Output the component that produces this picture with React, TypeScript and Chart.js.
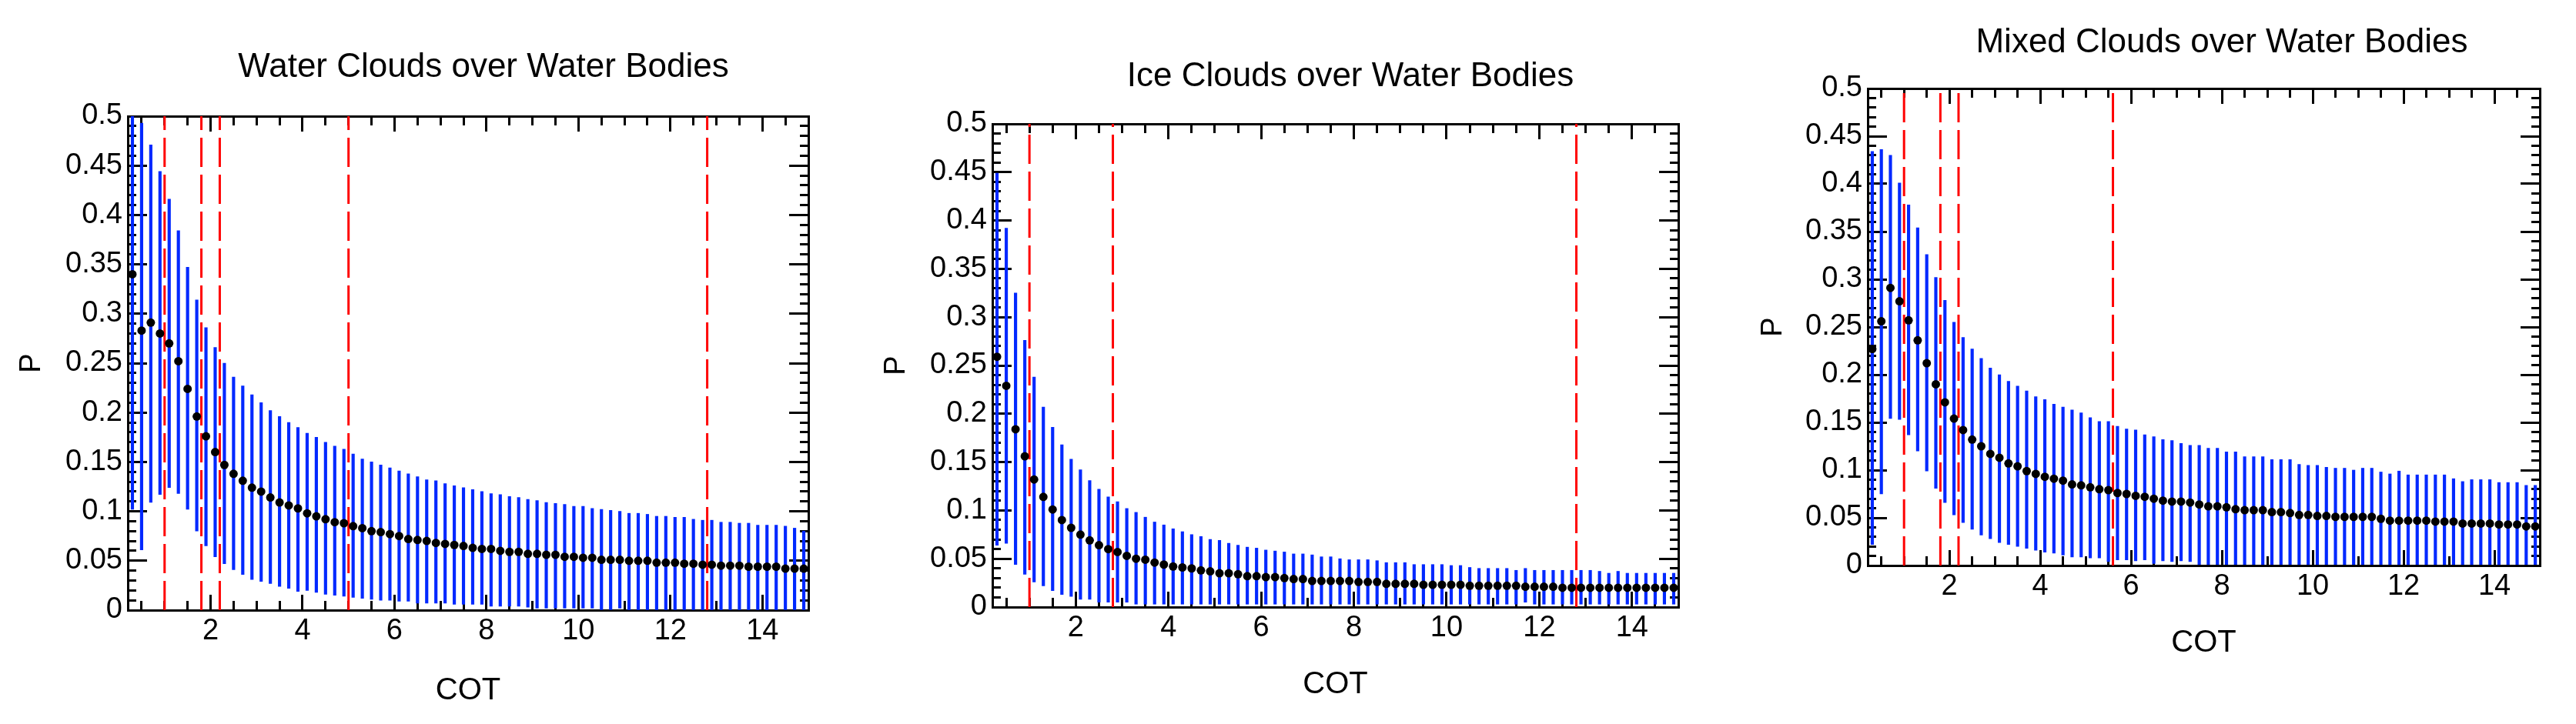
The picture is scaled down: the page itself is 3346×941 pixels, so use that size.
import React, { useEffect, useRef } from "react";
import { Chart, registerables } from "chart.js";

Chart.register(...registerables);

// ---------- data ----------
const COT = [
  0.3, 0.5, 0.7, 0.9, 1.1, 1.3, 1.5, 1.7, 1.9, 2.1,
  2.3, 2.5, 2.7, 2.9, 3.1, 3.3, 3.5, 3.7, 3.9, 4.1,
  4.3, 4.5, 4.7, 4.9, 5.1, 5.3, 5.5, 5.7, 5.9, 6.1,
  6.3, 6.5, 6.7, 6.9, 7.1, 7.3, 7.5, 7.7, 7.9, 8.1,
  8.3, 8.5, 8.7, 8.9, 9.1, 9.3, 9.5, 9.7, 9.9, 10.1,
  10.3, 10.5, 10.7, 10.9, 11.1, 11.3, 11.5, 11.7, 11.9, 12.1,
  12.3, 12.5, 12.7, 12.9, 13.1, 13.3, 13.5, 13.7, 13.9, 14.1,
  14.3, 14.5, 14.7, 14.9,
];

const WATER_MEAN = [
  0.340, 0.283, 0.291, 0.280, 0.270, 0.252, 0.224, 0.196, 0.176, 0.160,
  0.147, 0.138, 0.131, 0.124, 0.120, 0.114, 0.109, 0.106, 0.103, 0.098,
  0.095, 0.092, 0.089, 0.088, 0.085, 0.083, 0.080, 0.079, 0.077, 0.075,
  0.072, 0.071, 0.070, 0.068, 0.067, 0.066, 0.065, 0.063, 0.062, 0.062,
  0.060, 0.059, 0.059, 0.057, 0.057, 0.056, 0.056, 0.054, 0.054, 0.053,
  0.053, 0.051, 0.051, 0.051, 0.050, 0.050, 0.050, 0.048, 0.048, 0.048,
  0.047, 0.047, 0.046, 0.046, 0.045, 0.045, 0.045, 0.044, 0.044, 0.044,
  0.044, 0.042, 0.042, 0.042,
];
const WATER_HIGH = [
  0.580, 0.493, 0.471, 0.444, 0.416, 0.384, 0.347, 0.314, 0.286, 0.266,
  0.250, 0.236, 0.227, 0.218, 0.210, 0.202, 0.196, 0.190, 0.185, 0.179,
  0.175, 0.170, 0.166, 0.163, 0.158, 0.153, 0.150, 0.147, 0.144, 0.141,
  0.138, 0.135, 0.132, 0.131, 0.128, 0.126, 0.124, 0.122, 0.120, 0.118,
  0.117, 0.115, 0.114, 0.112, 0.111, 0.109, 0.108, 0.107, 0.105, 0.105,
  0.103, 0.102, 0.101, 0.100, 0.098, 0.098, 0.097, 0.095, 0.095, 0.094,
  0.094, 0.092, 0.091, 0.091, 0.089, 0.089, 0.088, 0.088, 0.086, 0.086,
  0.086, 0.085, 0.083, 0.080,
];
const WATER_LOW = [
  0.102, 0.061, 0.109, 0.117, 0.124, 0.118, 0.102, 0.080, 0.065, 0.054,
  0.047, 0.041, 0.036, 0.031, 0.029, 0.027, 0.024, 0.022, 0.019, 0.020,
  0.018, 0.016, 0.015, 0.014, 0.013, 0.012, 0.011, 0.010, 0.010, 0.009,
  0.009, 0.007, 0.007, 0.007, 0.007, 0.006, 0.006, 0.006, 0.006, 0.004,
  0.004, 0.004, 0.004, 0.003, 0.002, 0.002, 0.002, 0.002, 0.002, 0.002,
  0.002, 0.000, 0.000, 0.002, 0.000, 0.000, 0.000, 0.000, 0.000, 0.000,
  0.000, 0.000, 0.000, 0.000, 0.000, 0.000, 0.000, 0.000, 0.000, 0.000,
  0.000, 0.000, 0.000, 0.000,
];
const WATER_LINES = [1.0, 1.8, 2.2, 5.0, 12.8];

const ICE_MEAN = [
  0.259, 0.229, 0.184, 0.156, 0.132, 0.114, 0.101, 0.090, 0.082, 0.075,
  0.069, 0.064, 0.060, 0.057, 0.053, 0.050, 0.049, 0.046, 0.044, 0.042,
  0.041, 0.040, 0.038, 0.037, 0.035, 0.035, 0.034, 0.032, 0.032, 0.031,
  0.031, 0.030, 0.029, 0.029, 0.027, 0.027, 0.027, 0.027, 0.027, 0.026,
  0.026, 0.026, 0.024, 0.024, 0.024, 0.024, 0.023, 0.023, 0.023, 0.023,
  0.023, 0.022, 0.022, 0.022, 0.022, 0.022, 0.022, 0.021, 0.021, 0.021,
  0.021, 0.020, 0.020, 0.020, 0.020, 0.020, 0.020, 0.020, 0.020, 0.020,
  0.020, 0.020, 0.020, 0.020,
];
const ICE_HIGH = [
  0.449, 0.392, 0.325, 0.276, 0.238, 0.207, 0.186, 0.168, 0.153, 0.142,
  0.131, 0.122, 0.114, 0.109, 0.102, 0.098, 0.093, 0.088, 0.085, 0.081,
  0.078, 0.075, 0.073, 0.070, 0.069, 0.066, 0.064, 0.062, 0.061, 0.059,
  0.058, 0.057, 0.055, 0.055, 0.054, 0.052, 0.052, 0.050, 0.049, 0.049,
  0.049, 0.048, 0.046, 0.046, 0.046, 0.044, 0.044, 0.044, 0.044, 0.043,
  0.043, 0.041, 0.040, 0.040, 0.040, 0.040, 0.038, 0.040, 0.038, 0.038,
  0.038, 0.038, 0.038, 0.038, 0.038, 0.037, 0.035, 0.037, 0.035, 0.035,
  0.035, 0.035, 0.035, 0.035,
];
const ICE_LOW = [
  0.064, 0.066, 0.044, 0.034, 0.026, 0.022, 0.017, 0.013, 0.011, 0.008,
  0.008, 0.005, 0.005, 0.005, 0.005, 0.003, 0.003, 0.003, 0.003, 0.003,
  0.003, 0.003, 0.003, 0.003, 0.003, 0.003, 0.003, 0.003, 0.003, 0.003,
  0.003, 0.003, 0.003, 0.003, 0.003, 0.003, 0.003, 0.003, 0.003, 0.003,
  0.003, 0.003, 0.003, 0.003, 0.003, 0.003, 0.003, 0.003, 0.003, 0.003,
  0.003, 0.003, 0.003, 0.003, 0.003, 0.003, 0.003, 0.005, 0.003, 0.003,
  0.003, 0.003, 0.003, 0.003, 0.003, 0.003, 0.003, 0.003, 0.003, 0.003,
  0.003, 0.003, 0.003, 0.003,
];
const ICE_LINES = [1.0, 2.8, 12.8];

const MIXED_MEAN = [
  0.227, 0.256, 0.291, 0.277, 0.257, 0.236, 0.212, 0.190, 0.171, 0.154,
  0.142, 0.132, 0.125, 0.117, 0.113, 0.107, 0.104, 0.099, 0.096, 0.093,
  0.091, 0.089, 0.085, 0.084, 0.082, 0.080, 0.079, 0.076, 0.075, 0.073,
  0.072, 0.070, 0.068, 0.067, 0.067, 0.066, 0.064, 0.062, 0.062, 0.061,
  0.059, 0.058, 0.058, 0.058, 0.056, 0.056, 0.055, 0.053, 0.053, 0.052,
  0.052, 0.051, 0.051, 0.051, 0.051, 0.051, 0.049, 0.047, 0.047, 0.047,
  0.047, 0.047, 0.046, 0.046, 0.046, 0.044, 0.044, 0.044, 0.044, 0.043,
  0.043, 0.043, 0.041, 0.041,
];
const MIXED_HIGH = [
  0.434, 0.436, 0.430, 0.401, 0.378, 0.354, 0.326, 0.302, 0.278, 0.255,
  0.239, 0.227, 0.217, 0.207, 0.200, 0.193, 0.188, 0.183, 0.177, 0.174,
  0.169, 0.166, 0.163, 0.160, 0.155, 0.151, 0.151, 0.146, 0.143, 0.142,
  0.137, 0.135, 0.132, 0.131, 0.128, 0.126, 0.126, 0.123, 0.123, 0.119,
  0.119, 0.114, 0.114, 0.114, 0.111, 0.111, 0.111, 0.106, 0.105, 0.105,
  0.103, 0.102, 0.102, 0.100, 0.102, 0.102, 0.098, 0.096, 0.099, 0.095,
  0.095, 0.095, 0.095, 0.095, 0.091, 0.088, 0.090, 0.090, 0.090, 0.087,
  0.087, 0.087, 0.084, 0.084,
];
const MIXED_LOW = [
  0.022, 0.075, 0.154, 0.153, 0.137, 0.120, 0.099, 0.081, 0.066, 0.053,
  0.045, 0.038, 0.032, 0.028, 0.024, 0.022, 0.020, 0.018, 0.016, 0.014,
  0.013, 0.011, 0.009, 0.009, 0.008, 0.008, 0.004, 0.006, 0.006, 0.005,
  0.006, 0.002, 0.005, 0.004, 0.005, 0.004, 0.001, 0.001, 0.001, 0.001,
  0.001, 0.001, 0.001, 0.001, 0.001, 0.001, 0.001, 0.001, 0.001, 0.001,
  0.001, 0.001, 0.001, 0.001, 0.001, 0.001, 0.001, 0.001, 0.001, 0.001,
  0.001, 0.001, 0.001, 0.001, 0.001, 0.001, 0.001, 0.001, 0.001, 0.001,
  0.001, 0.001, 0.001, 0.001,
];
const MIXED_LINES = [1.0, 1.8, 2.2, 5.6];

// ---------- ticks ----------
const X_MAJOR_TICKS = [2, 4, 6, 8, 10, 12, 14];
const X_MINOR_TICKS = [
  0.5, 1, 1.5, 2, 2.5, 3, 3.5, 4, 4.5, 5, 5.5, 6, 6.5, 7, 7.5,
  8, 8.5, 9, 9.5, 10, 10.5, 11, 11.5, 12, 12.5, 13, 13.5, 14, 14.5,
];
const Y_MAJOR_TICKS = [0, 0.05, 0.1, 0.15, 0.2, 0.25, 0.3, 0.35, 0.4, 0.45, 0.5];
const Y_MINOR_TICKS = [
  0.01, 0.02, 0.03, 0.04, 0.05, 0.06, 0.07, 0.08, 0.09, 0.1,
  0.11, 0.12, 0.13, 0.14, 0.15, 0.16, 0.17, 0.18, 0.19, 0.2,
  0.21, 0.22, 0.23, 0.24, 0.25, 0.26, 0.27, 0.28, 0.29, 0.3,
  0.31, 0.32, 0.33, 0.34, 0.35, 0.36, 0.37, 0.38, 0.39, 0.4,
  0.41, 0.42, 0.43, 0.44, 0.45, 0.46, 0.47, 0.48, 0.49,
];
const X_MIN = 0.2;
const X_MAX = 15;
const Y_MIN = 0;
const Y_MAX = 0.5;

const TITLES = [
  "Water Clouds over Water Bodies",
  "Ice Clouds over Water Bodies",
  "Mixed Clouds over Water Bodies",
];
const X_LABEL = "COT";
const Y_LABEL = "P";

// ---------- layout / style ----------
const FONT = '"Liberation Sans", Arial, Helvetica, sans-serif';
const BLUE = "#0028ff";
const RED = "#ff0000";
const CANVAS_H = 941;

const PANELS = [
  {
    title: TITLES[0], mean: WATER_MEAN, low: WATER_LOW, high: WATER_HIGH, lines: WATER_LINES,
    left: 0, width: 1256, leftW: 166, rightW: 206, bottomH: 148,
    titlePad: { top: 61.6, bottom: 36.6 }, pPad: 23, cotPad: 23,
  },
  {
    title: TITLES[1], mean: ICE_MEAN, low: ICE_LOW, high: ICE_HIGH, lines: ICE_LINES,
    left: 1100, width: 1308, leftW: 189, rightW: 228, bottomH: 152,
    titlePad: { top: 73.6, bottom: 34.6 }, pPad: 46, cotPad: 31,
  },
  {
    title: TITLES[2], mean: MIXED_MEAN, low: MIXED_LOW, high: MIXED_HIGH, lines: MIXED_LINES,
    left: 2250, width: 1272, leftW: 176, rightW: 223, bottomH: 206,
    titlePad: { top: 29.6, bottom: 32.6 }, pPad: 35, cotPad: 85,
  },
];

const fixedTicks = (values: number[]) => (scale: any) => {
  scale.ticks = values.map((v) => ({ value: v }));
};
const fixWidth = (w: number) => (scale: any) => {
  scale.width = w;
};
const fixHeight = (h: number) => (scale: any) => {
  scale.height = h;
};

const tickFont = { family: FONT, size: 38, lineHeight: 1 };

function tickScale(opts: any) {
  const { axis, position, weight, ticksArr, size, len, border, labels, extra } = opts;
  const isX = axis === "x";
  return {
    type: "linear",
    axis,
    position,
    weight,
    offset: false,
    min: isX ? X_MIN : Y_MIN,
    max: isX ? X_MAX : Y_MAX,
    afterBuildTicks: fixedTicks(ticksArr),
    afterFit: isX ? fixHeight(size) : fixWidth(size),
    grid: {
      display: true,
      offset: false,
      drawOnChartArea: false,
      drawTicks: true,
      tickLength: -len,
      tickWidth: 3,
      tickColor: "#000",
    },
    border: { display: border, color: "#000", width: 3 },
    ticks: labels
      ? {
          display: true,
          autoSkip: false,
          maxRotation: 0,
          minRotation: 0,
          color: "#000",
          font: tickFont,
          ...labels,
        }
      : { display: false },
    ...(extra || {}),
  };
}

function makeConfig(p: any) {
  const dots = COT.map((x, i) => ({ x, y: p.mean[i] }));
  const bars = COT.map((x, i) => ({ x, y: [p.low[i], p.high[i]] }));
  const lineSets = p.lines.map((v: number) => ({
    type: "line",
    data: [
      { x: v, y: Y_MIN },
      { x: v, y: Y_MAX },
    ],
    borderColor: RED,
    borderWidth: 3,
    borderDash: [38, 10],
    pointRadius: 0,
    fill: false,
    order: 2,
    xAxisID: "x",
    yAxisID: "y",
  }));
  return {
    type: "scatter",
    data: {
      datasets: [
        {
          type: "scatter",
          data: dots,
          pointRadius: 5.5,
          pointBackgroundColor: "#000",
          pointBorderColor: "#000",
          pointBorderWidth: 0,
          showLine: false,
          order: 1,
          xAxisID: "x",
          yAxisID: "y",
        },
        ...lineSets,
        {
          type: "bar",
          data: bars,
          backgroundColor: BLUE,
          borderWidth: 0,
          barThickness: 3.5,
          order: 3,
          xAxisID: "x",
          yAxisID: "y",
        },
      ],
    },
    options: {
      animation: false,
      responsive: false,
      devicePixelRatio: 1,
      events: [],
      layout: { padding: 0 },
      plugins: {
        legend: { display: false },
        tooltip: { enabled: false },
        title: {
          display: true,
          text: p.title,
          color: "#000",
          font: { family: FONT, size: 44, weight: "normal", lineHeight: 1.2 },
          padding: p.titlePad,
        },
      },
      scales: {
        x: tickScale({
          axis: "x", position: "bottom", weight: 1, ticksArr: X_MAJOR_TICKS,
          size: p.bottomH, len: 20, border: true,
          labels: { padding: 29, callback: (v: any) => String(v) },
          extra: {
            title: {
              display: true,
              text: X_LABEL,
              color: "#000",
              font: { family: FONT, size: 40, lineHeight: 1 },
              padding: { top: 0, bottom: p.cotPad },
            },
          },
        }),
        xMinor: tickScale({
          axis: "x", position: "bottom", weight: 0, ticksArr: X_MINOR_TICKS,
          size: 0, len: 12, border: false,
        }),
        xTop: tickScale({
          axis: "x", position: "top", weight: 1, ticksArr: X_MAJOR_TICKS,
          size: 0, len: 20, border: true,
        }),
        xTopMinor: tickScale({
          axis: "x", position: "top", weight: 0, ticksArr: X_MINOR_TICKS,
          size: 0, len: 12, border: false,
        }),
        y: tickScale({
          axis: "y", position: "left", weight: 1, ticksArr: Y_MAJOR_TICKS,
          size: p.leftW, len: 25, border: true,
          labels: { padding: 32, callback: (v: any) => String(Math.round(v * 100) / 100) },
          extra: {
            beginAtZero: false,
            title: {
              display: true,
              text: Y_LABEL,
              color: "#000",
              font: { family: FONT, size: 38, lineHeight: 1 },
              padding: { top: p.pPad, bottom: 0 },
            },
          },
        }),
        yMinor: tickScale({
          axis: "y", position: "left", weight: 0, ticksArr: Y_MINOR_TICKS,
          size: 0, len: 11, border: false,
        }),
        yRight: tickScale({
          axis: "y", position: "right", weight: 1, ticksArr: Y_MAJOR_TICKS,
          size: p.rightW, len: 25, border: true,
        }),
        yRightMinor: tickScale({
          axis: "y", position: "right", weight: 0, ticksArr: Y_MINOR_TICKS,
          size: 0, len: 11, border: false,
        }),
      },
    },
  };
}

export default function App() {
  const refs = useRef<(HTMLCanvasElement | null)[]>([]);

  useEffect(() => {
    Chart.defaults.font.family = FONT;
    Chart.defaults.color = "#000";
    const charts = PANELS.map((p, i) => {
      const c = refs.current[i];
      return c ? new Chart(c, makeConfig(p) as any) : null;
    });
    return () => {
      charts.forEach((ch) => ch && ch.destroy());
    };
  }, []);

  return (
    <div
      style={{
        position: "absolute",
        left: 0,
        top: 0,
        width: 3346,
        height: 941,
        overflow: "hidden",
        background: "#fff",
      }}
    >
      {PANELS.map((p, i) => (
        <canvas
          key={i}
          ref={(el) => {
            refs.current[i] = el;
          }}
          width={p.width}
          height={CANVAS_H}
          style={{
            position: "absolute",
            left: p.left,
            top: 0,
            width: p.width,
            height: CANVAS_H,
          }}
        />
      ))}
    </div>
  );
}
